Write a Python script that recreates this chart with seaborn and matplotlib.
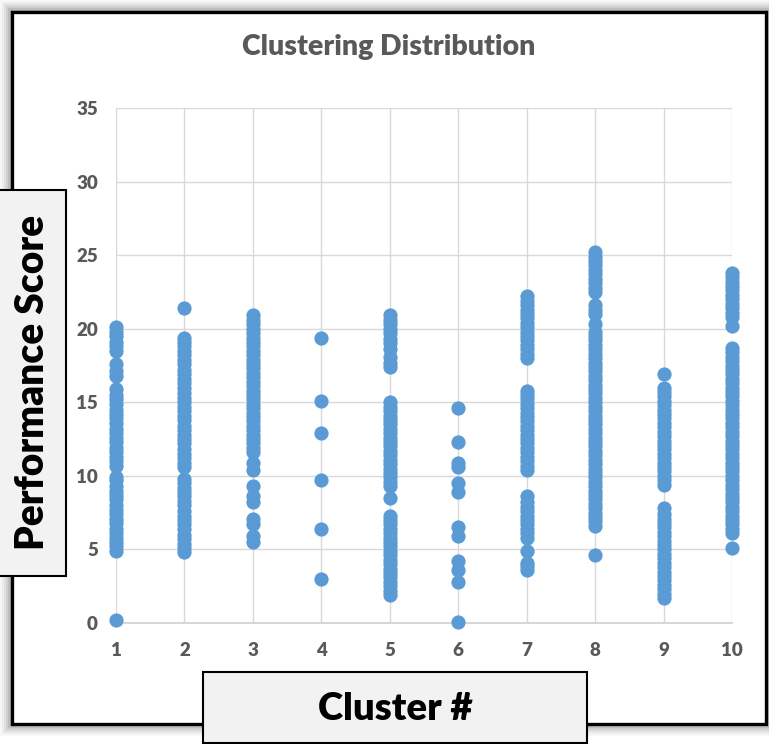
import matplotlib
matplotlib.use("Agg")
import matplotlib.pyplot as plt
import seaborn as sns
import pandas as pd
from matplotlib.patches import Rectangle

# ---- data ----
clusters = [1, 2, 3, 4, 5, 6, 7, 8, 9, 10]
c1 = [0.2, 4.9, 5.2, 5.5, 5.8, 6.1, 6.4, 6.8, 7.1, 7.4, 7.7, 8.0, 8.4, 8.7, 9.0, 9.3, 9.7, 9.9,
      10.7, 11.0, 11.3, 11.6, 11.9, 12.3, 12.6, 12.9, 13.2, 13.6, 13.9, 14.2, 14.5, 14.9, 15.2,
      15.5, 15.9, 16.8, 17.1, 17.6, 18.5, 18.8, 19.1, 19.5, 19.8, 20.1]
c2 = [4.8, 5.1, 5.4, 5.7, 6.0, 6.4, 6.7, 7.0, 7.3, 7.6, 8.0, 8.3, 8.6, 8.9, 9.2, 9.5, 9.8,
      10.6, 10.9, 11.2, 11.5, 11.8, 12.2, 12.5, 12.8, 13.1, 13.4, 13.8, 14.1, 14.4, 14.7, 15.0,
      15.3, 15.6, 16.0, 16.3, 16.6, 16.9, 17.2, 17.6, 17.9, 18.2, 18.5, 18.8, 19.1, 19.4, 21.4]
c3 = [5.5, 5.9, 6.7, 7.1, 8.2, 8.6, 9.3, 10.4, 10.9, 11.6, 11.9, 12.2, 12.5, 12.8, 13.1, 13.4,
      13.7, 14.0, 14.3, 14.6, 14.9, 15.2, 15.5, 15.8, 16.1, 16.4, 16.7, 17.0, 17.3, 17.6, 17.9,
      18.2, 18.5, 18.8, 19.1, 19.4, 19.7, 20.0, 20.3, 20.6, 20.9]
c4 = [3.0, 6.4, 9.7, 12.9, 15.1, 19.4]
c5 = [1.9, 2.2, 2.5, 2.8, 3.1, 3.4, 3.7, 4.0, 4.3, 4.6, 4.9, 5.2, 5.5, 5.8, 6.1, 6.4, 6.7, 7.0,
      7.3, 8.5, 9.3, 9.6, 9.9, 10.2, 10.5, 10.8, 11.1, 11.4, 11.7, 12.0, 12.3, 12.6, 12.9, 13.2,
      13.5, 13.8, 14.1, 14.4, 14.7, 15.0, 17.4, 17.7, 18.1, 18.6, 19.0, 19.3, 19.7, 20.0, 20.3,
      20.6, 20.9]
c6 = [0.1, 2.8, 3.6, 4.2, 5.9, 6.5, 8.9, 9.5, 10.6, 10.9, 12.3, 14.6]
c7 = [3.6, 3.9, 4.1, 4.9, 5.8, 6.1, 6.4, 6.7, 7.0, 7.3, 7.6, 7.9, 8.2, 8.6, 10.4, 10.7, 11.0,
      11.3, 11.6, 11.9, 12.2, 12.5, 12.8, 13.1, 13.4, 13.7, 14.0, 14.3, 14.6, 14.9, 15.2, 15.5,
      15.8, 18.0, 18.3, 18.6, 18.9, 19.2, 19.5, 19.8, 20.1, 20.4, 20.7, 21.0, 21.3, 21.6, 21.9,
      22.2]
c8 = [4.6, 6.6, 6.9, 7.2, 7.5, 7.8, 8.1, 8.4, 8.7, 9.0, 9.3, 9.6, 9.9, 10.2, 10.5, 10.8, 11.1,
      11.4, 11.7, 12.0, 12.3, 12.6, 12.9, 13.2, 13.5, 13.8, 14.1, 14.4, 14.7, 15.0, 15.3, 15.6,
      15.9, 16.2, 16.5, 16.8, 17.1, 17.4, 17.7, 18.0, 18.3, 18.6, 18.9, 19.2, 19.5, 19.8, 20.3,
      21.0, 21.3, 21.6, 22.5, 22.8, 23.1, 23.4, 23.7, 24.0, 24.3, 24.6, 24.9, 25.2]
c9 = [1.7, 2.0, 2.3, 2.6, 2.9, 3.2, 3.5, 3.8, 4.1, 4.4, 4.7, 5.0, 5.3, 5.6, 5.9, 6.2, 6.5, 6.8,
      7.1, 7.4, 7.8, 9.4, 9.7, 10.0, 10.3, 10.6, 10.9, 11.2, 11.5, 11.8, 12.1, 12.4, 12.7, 13.0,
      13.3, 13.6, 13.9, 14.2, 14.5, 14.8, 15.1, 15.4, 15.7, 16.0, 16.9]
c10 = [5.1, 6.1, 6.4, 6.7, 7.0, 7.3, 7.6, 7.9, 8.2, 8.5, 8.8, 9.1, 9.4, 9.7, 10.0, 10.3, 10.6,
       10.9, 11.2, 11.5, 11.8, 12.1, 12.4, 12.7, 13.0, 13.3, 13.6, 13.9, 14.2, 14.5, 14.8, 15.1,
       15.4, 15.7, 16.0, 16.3, 16.6, 16.9, 17.2, 17.5, 17.8, 18.1, 18.4, 18.7, 20.2, 20.8, 21.1,
       21.4, 21.7, 22.0, 22.3, 22.6, 22.9, 23.2, 23.5, 23.8]
scores = [c1, c2, c3, c4, c5, c6, c7, c8, c9, c10]
y_ticks = [0, 5, 10, 15, 20, 25, 30, 35]
title = "Clustering Distribution"
x_label = "Cluster #"
y_label = "Performance Score"

rows = []
for c, vals in zip(clusters, scores):
    for v in vals:
        rows.append({"cluster": c, "score": v})
df = pd.DataFrame(rows)

# ---- figure ----
sns.set_theme(style="white")
plt.rcParams["font.family"] = ["Lato", "DejaVu Sans"]

W, H = 769, 744
fig = plt.figure(figsize=(W / 100, H / 100), dpi=100)
fig.patch.set_facecolor("white")


def fx(px):
    return px / W


def fy(py):
    return 1 - py / H


# frame shadow and border
fl, ft, fr, fb = 12, 12, 766, 724
for off, a in [(12, 0.03), (10, 0.04), (8, 0.05), (6, 0.07), (4, 0.09), (2, 0.12)]:
    fig.add_artist(Rectangle((fx(fl - off), fy(fb + off)), fx(fr - fl + 2 * off), (fb - ft + 2 * off) / H,
                             transform=fig.transFigure, facecolor="black", alpha=a,
                             edgecolor="none", zorder=0))
fig.add_artist(Rectangle((fx(fl), fy(fb)), fx(fr - fl), (fb - ft) / H,
                         transform=fig.transFigure, facecolor="white",
                         edgecolor="black", linewidth=2.4, zorder=1))

ax = fig.add_axes([fx(116), fy(623), fx(732) - fx(116), fy(108) - fy(623)])
ax.set_zorder(2)
ax.patch.set_alpha(0)

sns.scatterplot(data=df, x="cluster", y="score", ax=ax, color="#5b9bd5",
                s=105, linewidth=0, clip_on=False, zorder=3, legend=False)

ax.set_xlim(1, 10)
ax.set_ylim(0, 35)
ax.set_xticks(clusters)
ax.set_yticks(y_ticks)
ax.set_xticklabels([str(c) for c in clusters])
ax.set_yticklabels([str(t) for t in y_ticks])
ax.grid(True, color="#d9d9d9", linewidth=1)
ax.set_axisbelow(True)
for s in ["top", "right", "left"]:
    ax.spines[s].set_visible(False)
ax.spines["bottom"].set_color("#d0d0d0")
ax.spines["bottom"].set_linewidth(1.2)
ax.tick_params(axis="both", length=0, labelsize=13.5, labelcolor="#595959")
ax.tick_params(axis="x", pad=14)
ax.tick_params(axis="y", pad=13)
for lab in ax.get_xticklabels() + ax.get_yticklabels():
    lab.set_fontweight("heavy")
ax.set_xlabel("")
ax.set_ylabel("")

fig.text(fx(389), fy(47), title, ha="center", va="center", fontsize=20.5,
         fontweight="heavy", color="#595959", zorder=5)

# label boxes
fig.add_artist(Rectangle((fx(-2), fy(576)), fx(68), (576 - 190) / H,
                         transform=fig.transFigure, facecolor="#f2f2f2",
                         edgecolor="black", linewidth=1.5, zorder=4))
fig.text(fx(33), fy(382), y_label, rotation=90, ha="center", va="center",
         fontsize=28, fontweight="heavy", color="black", zorder=5)

fig.add_artist(Rectangle((fx(203), fy(743)), fx(384), (743 - 672) / H,
                         transform=fig.transFigure, facecolor="#f2f2f2",
                         edgecolor="black", linewidth=1.5, zorder=4))
fig.text(fx(395), fy(709), x_label, ha="center", va="center",
         fontsize=27.5, fontweight="heavy", color="black", zorder=5)

fig.savefig("out.png", dpi=100)
